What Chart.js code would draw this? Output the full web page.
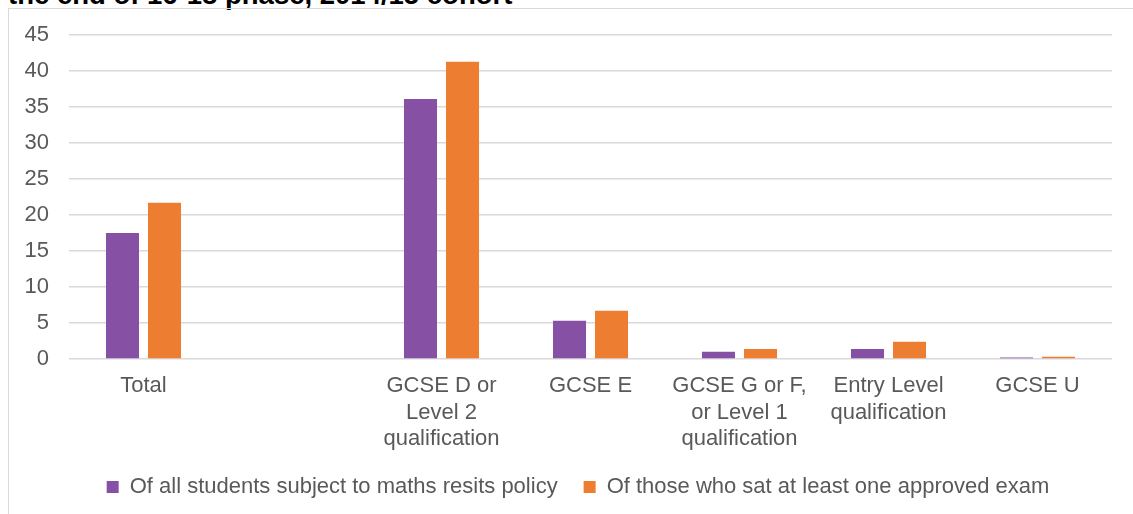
<!DOCTYPE html>
<html>
<head>
<meta charset="utf-8">
<script src="https://cdn.jsdelivr.net/npm/chart.js@4"></script>
<style>
  html, body { margin: 0; padding: 0; background: #fff; overflow: hidden; }
  #wrap { position: relative; width: 1133px; height: 514px; }
  #rubrik {
    position: absolute; left: 8px; top: -21px; line-height: 27px;
    font: bold 27.5px "Liberation Sans", Arial, sans-serif; color: #000; white-space: nowrap;
  }
  #ram {
    position: absolute; left: 8px; top: 8px; width: 1140px; height: 520px;
    border: 1px solid #d9d9d9; box-sizing: border-box;
  }
  #graf { position: absolute; left: 0; top: 0; }
</style>
</head>
<body>
<div id="wrap">
  <div id="rubrik">the end of 16-18 phase, 2014/15 cohort</div>
  <div id="ram"></div>
  <canvas id="graf" width="1133" height="514"></canvas>
</div>
<script>
// kategorier (tom kategori ger luckan efter Total)
const kategorier = [
  "Total",
  "",
  ["GCSE D or", "Level 2", "qualification"],
  "GCSE E",
  ["GCSE G or F,", "or Level 1", "qualification"],
  ["Entry Level", "qualification"],
  "GCSE U"
];
const serieNamn = [
  "Of all students subject to maths resits policy",
  "Of those who sat at least one approved exam"
];
const allaElever = [17.5, null, 36.1, 5.3, 1.0, 1.4, 0.2];
const provSkrivare = [21.7, null, 41.3, 6.7, 1.4, 2.4, 0.3];
const yTicks = [0, 5, 10, 15, 20, 25, 30, 35, 40, 45];

const farger = ["#8650a5", "#ed7d31"];
const textFarg = "#595959";
const typsnitt = '"Liberation Sans", Arial, sans-serif';

// flyttar legenden lite åt höger, som i originalet
const legendFlytt = {
  id: 'legendFlytt',
  afterLayout(chart) {
    if (chart.legend) chart.legend.left += 44;
  }
};

const ctx = document.getElementById('graf').getContext('2d');
new Chart(ctx, {
  type: 'bar',
  data: {
    labels: kategorier,
    datasets: [
      { label: serieNamn[0], data: allaElever, backgroundColor: farger[0] },
      { label: serieNamn[1], data: provSkrivare, backgroundColor: farger[1] }
    ]
  },
  plugins: [legendFlytt],
  options: {
    responsive: false,
    animation: false,
    devicePixelRatio: 1,
    categoryPercentage: 0.564,
    barPercentage: 0.786,
    layout: { padding: { left: 0, right: 21, top: 35, bottom: 6 } },
    plugins: {
      tooltip: { enabled: false },
      legend: {
        position: 'bottom',
        labels: {
          color: textFarg,
          font: { family: typsnitt, size: 22 },
          boxWidth: 12,
          boxHeight: 12,
          padding: 26
        }
      }
    },
    scales: {
      x: {
        grid: { display: false, drawTicks: false },
        border: { display: false },
        ticks: {
          color: textFarg,
          font: { family: typsnitt, size: 22, lineHeight: 1.2 },
          padding: 14,
          maxRotation: 0,
          autoSkip: false
        },
        // plats för tre rader etiketter
        afterFit: (skala) => { skala.height = 91; }
      },
      y: {
        min: 0,
        max: yTicks[yTicks.length - 1],
        afterBuildTicks: (skala) => { skala.ticks = yTicks.map(v => ({ value: v })); },
        grid: { color: "#d9d9d9", lineWidth: 1.5, drawTicks: false },
        border: { display: false },
        ticks: {
          color: textFarg,
          font: { family: typsnitt, size: 22 },
          padding: 20
        },
        afterFit: (skala) => { skala.width = 69; }
      }
    }
  }
});
</script>
</body>
</html>
